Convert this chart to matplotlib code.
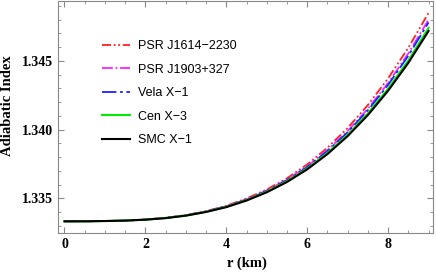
import matplotlib
matplotlib.use("Agg")
import matplotlib.pyplot as plt
from matplotlib.ticker import MultipleLocator

r = [0, 0.5, 1, 1.5, 2, 2.5, 3, 3.5, 4, 4.5, 5, 5.5, 6, 6.5, 7, 7.5, 8, 8.5, 9]
psr_j1614 = [1.33333, 1.33333, 1.33335, 1.33338, 1.33346, 1.33359, 1.33378, 1.33407, 1.33446, 1.33499,
             1.33564, 1.33646, 1.33747, 1.33868, 1.34012, 1.34179, 1.34373, 1.34596, 1.34850]
psr_j1903 = [1.33333, 1.33333, 1.33335, 1.33338, 1.33345, 1.33358, 1.33377, 1.33405, 1.33442, 1.33493,
             1.33557, 1.33636, 1.33733, 1.33851, 1.33990, 1.34152, 1.34339, 1.34554, 1.34800]
vela_x1 = [1.33333, 1.33333, 1.33335, 1.33338, 1.33345, 1.33357, 1.33376, 1.33404, 1.33441, 1.33491,
           1.33554, 1.33632, 1.33728, 1.33844, 1.33981, 1.34141, 1.34326, 1.34538, 1.34780]
cen_x3 = [1.33333, 1.33333, 1.33335, 1.33338, 1.33345, 1.33357, 1.33375, 1.33402, 1.33438, 1.33487,
          1.33548, 1.33624, 1.33717, 1.33830, 1.33963, 1.34118, 1.34298, 1.34504, 1.34740]
smc_x1 = [1.33333, 1.33333, 1.33335, 1.33338, 1.33345, 1.33356, 1.33374, 1.33401, 1.33436, 1.33484,
          1.33544, 1.33619, 1.33711, 1.33822, 1.33953, 1.34106, 1.34283, 1.34486, 1.34718]
labels = ["PSR J1614\u22122230", "PSR J1903+327", "Vela X\u22121", "Cen X\u22123", "SMC X\u22121"]
x_ticks = [0, 2, 4, 6, 8]
y_ticks = [1.335, 1.340, 1.345]

fig = plt.figure(figsize=(4.36, 2.73), dpi=100)
ax = fig.add_axes([58/436, 1-232.7/273, (433-58)/436, 232.2/273])

ax.plot(r, psr_j1614, color="#ff2020", lw=1.3, dashes=[5, 1.5, 1, 1.5, 1, 1.5], label=labels[0])
ax.plot(r, psr_j1903, color="#ff20ff", lw=1.3, dashes=[6, 1.5, 1, 1.5], label=labels[1])
ax.plot(r, vela_x1, color="#2020ff", lw=1.3, dashes=[8, 2, 1.5, 2], label=labels[2])
ax.plot(r, cen_x3, color="#00ee00", lw=1.5, label=labels[3])
ax.plot(r, smc_x1, color="black", lw=1.5, label=labels[4])

ax.set_xlim(-0.16, 9.11)
ax.set_ylim(1.3325, 1.3494)
ax.set_xticks(x_ticks)
ax.set_yticks(y_ticks)
ax.set_xticklabels([str(t) for t in x_ticks])
ax.set_yticklabels([f"{t:.3f}" for t in y_ticks])
ax.xaxis.set_minor_locator(MultipleLocator(0.5))
ax.yaxis.set_minor_locator(MultipleLocator(0.001))
ax.tick_params(which="both", direction="in", top=True, right=True, color="#888888")
ax.tick_params(which="major", length=4, width=0.8)
ax.tick_params(which="minor", length=2, width=0.6)
for lab in ax.get_xticklabels() + ax.get_yticklabels():
    lab.set_fontfamily("Liberation Serif")
    lab.set_fontweight("bold")
    lab.set_fontsize(10)
for s in ax.spines.values():
    s.set_color("#888888")
    s.set_linewidth(0.8)

ax.set_xlabel("r (km)", fontfamily="Liberation Serif", fontweight="bold", fontsize=10.5)
ax.set_ylabel("Adiabatic Index", fontfamily="Liberation Serif", fontweight="bold", fontsize=10.5)
ax.xaxis.set_label_coords(0.503, -0.133)
ax.yaxis.set_label_coords(-0.135, 0.546)
ax.xaxis.label.set_va("center")
ax.yaxis.label.set_va("center")

leg = ax.legend(loc="upper left", bbox_to_anchor=(0.103, 0.85), frameon=False,
                prop={"family": "Liberation Sans", "size": 9}, handlelength=2.3,
                handletextpad=0.6, labelspacing=0.92, borderaxespad=0)

fig.savefig("out.png", dpi=100)
